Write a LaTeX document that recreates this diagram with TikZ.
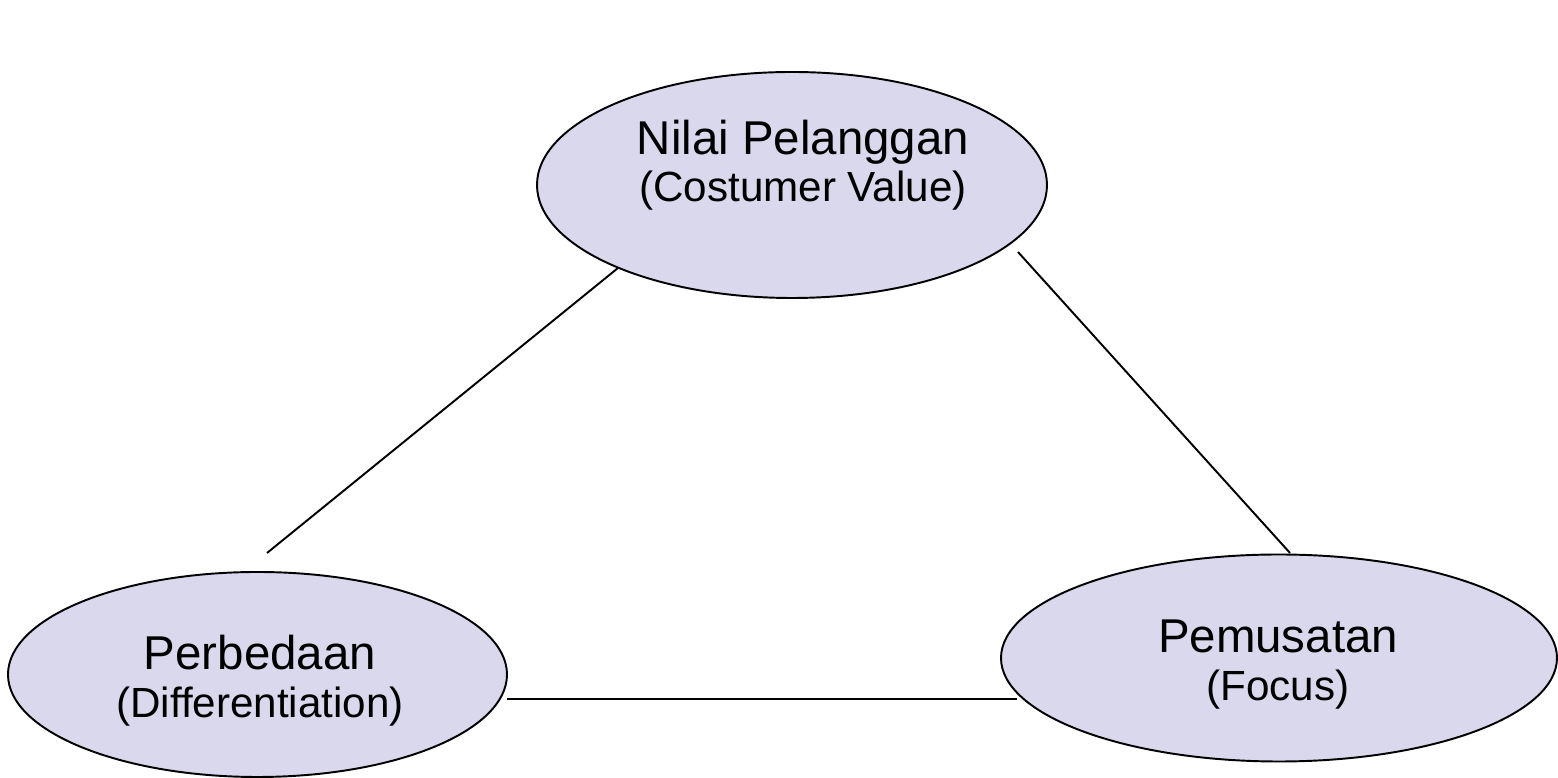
\documentclass[tikz,border=0pt]{standalone}
\usepackage{fontspec}
\setmainfont{Liberation Sans}
\usetikzlibrary{shapes.geometric}
\definecolor{ovalfill}{RGB}{218,216,236}

\begin{document}
\begin{tikzpicture}[
  oval/.style ={draw, ellipse, fill=ovalfill, line width=1.1pt, inner sep=0pt},
  lbl/.style  ={align=center, font=\fontsize{24}{27}\selectfont},
  link/.style ={line width=1.1pt},
]
\useasboundingbox (0,0) rectangle (31.16,15.56);

%% ---- Ovals ----
\node[oval, minimum width=10.2cm,  minimum height=4.52cm] (nilai)  at (15.84,11.86) {};
\node[oval, minimum width=9.98cm,  minimum height=4.1cm]  (beda)   at (5.15,2.07)   {};
\node[oval, minimum width=11.12cm, minimum height=4.14cm] (pusat)  at (25.58,2.40)  {};

%% ---- Labels ----
\node[lbl] (nilaitxt) at (16.06,12.26) {{\fontsize{27}{27}\selectfont Nilai Pelanggan}\\(Costumer Value)};
\node[lbl] (bedatxt)  at (5.20,1.95)   {{\fontsize{27}{27}\selectfont Perbedaan}\\(Differentiation)};
\node[lbl] (pusattxt) at (25.56,2.27)  {{\fontsize{27}{27}\selectfont Pemusatan}\\(Focus)};

%% ---- Connector ends ----
\coordinate (n1) at (12.36,10.20);
\coordinate (b1) at (5.34,4.50);
\coordinate (n2) at (20.36,10.52);
\coordinate (p1) at (25.80,4.50);
\coordinate (b2) at (10.14,1.58);
\coordinate (p2) at (20.34,1.58);

%% ---- Lines ----
\draw[link] (n1) -- (b1);
\draw[link] (n2) -- (p1);
\draw[link] (b2) -- (p2);

\end{tikzpicture}
\end{document}
